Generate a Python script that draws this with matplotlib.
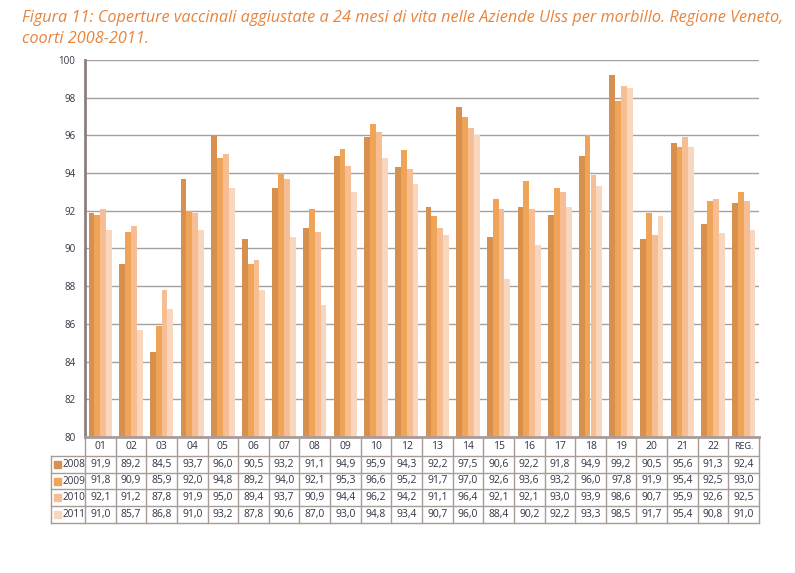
import matplotlib.pyplot as plt
import matplotlib.transforms as mtransforms
from matplotlib.patches import Rectangle
import numpy as np

# Dati (coperture %, per Ulss)
ulss = ['01', '02', '03', '04', '05', '06', '07', '08', '09', '10', '12', '13',
        '14', '15', '16', '17', '18', '19', '20', '21', '22', 'REG.']
c2008 = [91.9, 89.2, 84.5, 93.7, 96.0, 90.5, 93.2, 91.1, 94.9, 95.9, 94.3, 92.2,
         97.5, 90.6, 92.2, 91.8, 94.9, 99.2, 90.5, 95.6, 91.3, 92.4]
c2009 = [91.8, 90.9, 85.9, 92.0, 94.8, 89.2, 94.0, 92.1, 95.3, 96.6, 95.2, 91.7,
         97.0, 92.6, 93.6, 93.2, 96.0, 97.8, 91.9, 95.4, 92.5, 93.0]
c2010 = [92.1, 91.2, 87.8, 91.9, 95.0, 89.4, 93.7, 90.9, 94.4, 96.2, 94.2, 91.1,
         96.4, 92.1, 92.1, 93.0, 93.9, 98.6, 90.7, 95.9, 92.6, 92.5]
c2011 = [91.0, 85.7, 86.8, 91.0, 93.2, 87.8, 90.6, 87.0, 93.0, 94.8, 93.4, 90.7,
         96.0, 88.4, 90.2, 92.2, 93.3, 98.5, 91.7, 95.4, 90.8, 91.0]
years = ['2008', '2009', '2010', '2011']
series = [c2008, c2009, c2010, c2011]
colors = ['#D8904F', '#F0A458', '#F6BE92', '#F9D6BE']

W, H = 795, 573
fig = plt.figure(figsize=(W / 100, H / 100), dpi=100)
plt.rcParams['font.family'] = ['Open Sans', 'DejaVu Sans']
txt_c = '#333344'

left, right, top, bottom = 85, 759, 60, 437
ax = fig.add_axes([left / W, 1 - bottom / H, (right - left) / W, (bottom - top) / H])

n = len(ulss)
x = np.arange(n)
bw = 0.19
for k, (vals, col) in enumerate(zip(series, colors)):
    ax.bar(x + (k - 1.5) * bw, np.array(vals) - 80, bottom=80, width=bw,
           color=col, edgecolor='none', zorder=3)

ax.set_xlim(-0.5, n - 0.5)
ax.set_ylim(80, 100)
ax.set_yticks(range(80, 101, 2))
ax.set_yticklabels([str(v) for v in range(80, 101, 2)], fontsize=7, color=txt_c)
ax.tick_params(axis='y', length=0, pad=7)
ax.set_xticks([])
ax.grid(axis='y', color='#A8A09C', linewidth=1.0, zorder=0)
for s in ['top', 'right', 'bottom']:
    ax.spines[s].set_visible(False)
ax.spines['left'].set_color('#8C807C')
ax.spines['left'].set_linewidth(2)

# Tabella dati sotto il grafico
tr = mtransforms.blended_transform_factory(ax.transData, fig.transFigure)
line_c = '#A89C98'
rows_y = [437, 456, 473, 489, 506, 523]
fy = lambda p: 1 - p / H
lab_left = (51 - left) / (right - left) * n - 0.5

# righe orizzontali
for i, yy in enumerate(rows_y):
    x0 = -0.5 if i == 0 else lab_left
    ax.plot([x0, n - 0.5], [fy(yy)] * 2, transform=tr, color=line_c,
            lw=2 if i == 0 else 1, clip_on=False, zorder=5)
# colonne verticali
for j in range(n + 1):
    ax.plot([j - 0.5] * 2, [fy(437), fy(523)], transform=tr, color=line_c,
            lw=1, clip_on=False)
ax.plot([lab_left] * 2, [fy(456), fy(523)], transform=tr, color=line_c,
        lw=1, clip_on=False)

for j, lab in enumerate(ulss):
    ax.text(j, fy(446.5), lab, transform=tr, ha='center', va='center',
            fontsize=6.5 if lab == 'REG.' else 7.5, color=txt_c)
for r, (yr, vals, col) in enumerate(zip(years, series, colors)):
    yc = (rows_y[r + 1] + rows_y[r + 2]) / 2
    for j, v in enumerate(vals):
        ax.text(j, fy(yc), f'{v:.1f}'.replace('.', ','), transform=tr,
                ha='center', va='center', fontsize=7.5, color=txt_c)
    fig.patches.append(Rectangle((54 / W, fy(yc + 3.5)), 7 / W, 7 / H,
                                 transform=fig.transFigure, color=col))
    fig.text(63 / W, fy(yc), yr, ha='left', va='center', fontsize=7.2, color=txt_c)

fig.text(22 / W, fy(10), 'Figura 11: Coperture vaccinali aggiustate a 24 mesi di vita nelle '
         'Aziende Ulss per morbillo. Regione Veneto,\ncoorti 2008-2011.',
         ha='left', va='top', fontsize=11.7, style='italic', color='#E8843C',
         linespacing=1.4)

fig.savefig('out.png', dpi=100)
